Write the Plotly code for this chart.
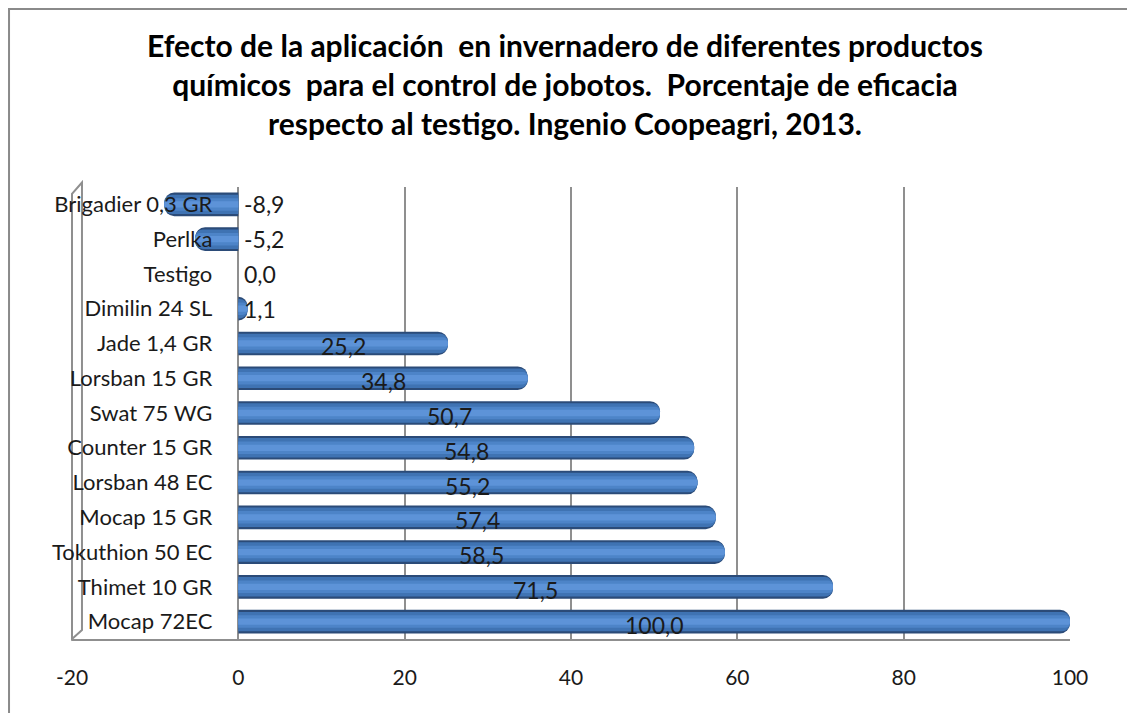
import plotly.graph_objects as go

categories = ["Brigadier 0,3 GR", "Perlka", "Testigo", "Dimilin 24 SL", "Jade 1,4 GR",
              "Lorsban 15 GR", "Swat 75 WG", "Counter 15 GR", "Lorsban 48 EC",
              "Mocap 15 GR", "Tokuthion 50 EC", "Thimet 10 GR", "Mocap 72EC"]
values = [-8.9, -5.2, 0.0, 1.1, 25.2, 34.8, 50.7, 54.8, 55.2, 57.4, 58.5, 71.5, 100.0]
tick_vals = [-20, 0, 20, 40, 60, 80, 100]
tick_text = ["-20", "0", "20", "40", "60", "80", "100"]
title_text = ("Efecto de la aplicación  en invernadero de diferentes productos<br>"
              "químicos  para el control de jobotos.  Porcentaje de eficacia<br>"
              "respecto al testigo. Ingenio Coopeagri, 2013.")

FONT = "Lato"
GRID = "#8f8f8f"
fig = go.Figure()

layers = [(0.68, "#2b4b78"), (0.56, "#3f73b3"), (0.36, "#4d84c8"), (0.18, "#5d93d8")]
for w, c in layers:
    fig.add_trace(go.Bar(
        y=categories, x=values, orientation="h", width=w,
        marker=dict(color=c, line=dict(width=0), cornerradius="45%"),
        hoverinfo="skip", showlegend=False,
    ))

fig.update_layout(barmode="overlay")

labels = [f"{v:.1f}".replace(".", ",") for v in values]
for cat, v, lab in zip(categories, values, labels):
    if v >= 20:
        fig.add_annotation(x=v / 2, y=cat, text=lab, showarrow=False,
                           xanchor="center", yanchor="middle", yshift=-3,
                           font=dict(family=FONT, size=23, color="#1a1a1a"))
    else:
        fig.add_annotation(x=0, y=cat, text=lab, showarrow=False,
                           xanchor="left", yanchor="middle", xshift=4,
                           font=dict(family=FONT, size=23, color="#1a1a1a"))

fig.update_layout(
    width=1135, height=713,
    paper_bgcolor="white", plot_bgcolor="white",
    margin=dict(l=64, r=73, t=179, b=82),
    title=dict(text=title_text, x=557 / 1135, xanchor="center", y=1 - 49 / 713,
               yref="container", yanchor="middle",
               font=dict(family=FONT, size=30, color="#000000", weight="bold")),
    xaxis=dict(range=[-20, 100], tickvals=tick_vals, ticktext=tick_text, showgrid=True,
               gridcolor=GRID, gridwidth=2, zeroline=True,
               zerolinecolor=GRID, zerolinewidth=2,
               showline=True, linecolor=GRID, linewidth=2,
               ticks="", ticklabelstandoff=19,
               tickfont=dict(family=FONT, size=21, color="#1a1a1a")),
    yaxis=dict(autorange="reversed", anchor="free", position=20 / 120,
               showline=False, showgrid=False, ticks="", ticklabelstandoff=26,
               tickfont=dict(family=FONT, size=22, color="#1a1a1a")),
    shapes=[
        dict(type="rect", xref="paper", yref="paper",
             x0=-0.0631, x1=1.2, y0=-0.3, y1=1.394,
             line=dict(color="#8a8a8a", width=2), fillcolor="rgba(0,0,0,0)",
             layer="below"),
        # left side wall of the 3-D plot box
        dict(type="path", xref="paper", yref="paper",
             path="M 0,0 L 0,0.985 L 0.010,1.01 L 0.010,0.02 Z",
             line=dict(color=GRID, width=2), fillcolor="rgba(0,0,0,0)",
             layer="below"),
    ],
)

fig.write_html("out.html")
